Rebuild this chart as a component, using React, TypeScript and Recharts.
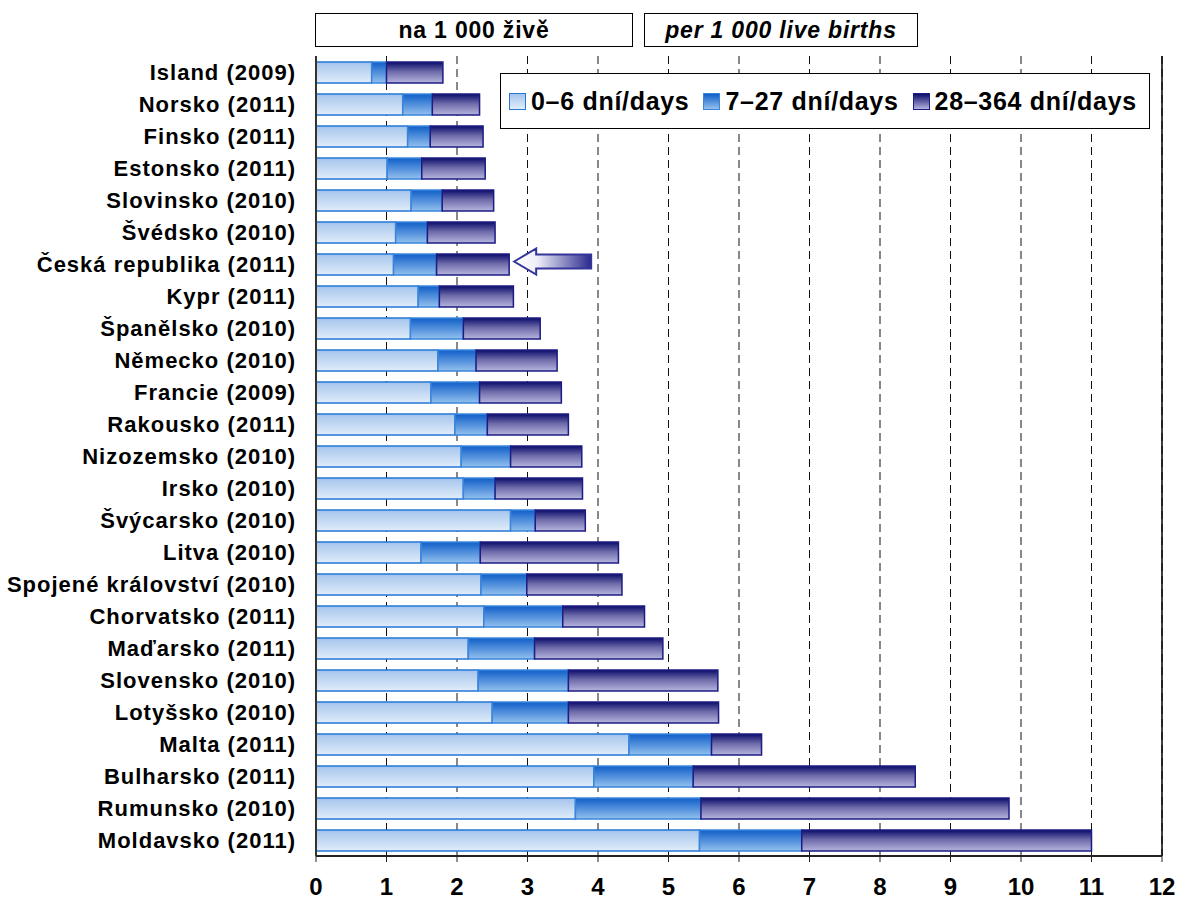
import React from "react";
import {
  Bar,
  BarChart,
  CartesianGrid,
  LabelList,
  Legend,
  ReferenceLine,
  XAxis,
  YAxis,
} from "recharts";

const COUNTRIES = [
  "Island (2009)",
  "Norsko (2011)",
  "Finsko (2011)",
  "Estonsko (2011)",
  "Slovinsko (2010)",
  "Švédsko (2010)",
  "Česká republika (2011)",
  "Kypr (2011)",
  "Španělsko (2010)",
  "Německo (2010)",
  "Francie (2009)",
  "Rakousko (2011)",
  "Nizozemsko (2010)",
  "Irsko (2010)",
  "Švýcarsko (2010)",
  "Litva (2010)",
  "Spojené království (2010)",
  "Chorvatsko (2011)",
  "Maďarsko (2011)",
  "Slovensko (2010)",
  "Lotyšsko (2010)",
  "Malta (2011)",
  "Bulharsko (2011)",
  "Rumunsko (2010)",
  "Moldavsko (2011)",
];

// 0–6 days
const EARLY = [
  0.79, 1.23, 1.3, 1.01, 1.35, 1.13, 1.1, 1.45, 1.34, 1.73, 1.63, 1.97, 2.06,
  2.09, 2.76, 1.49, 2.34, 2.38, 2.16, 2.3, 2.5, 4.44, 3.94, 3.68, 5.44,
];
// 7–27 days
const LATE = [
  0.21, 0.42, 0.32, 0.49, 0.44, 0.45, 0.61, 0.3, 0.75, 0.54, 0.69, 0.46, 0.7,
  0.45, 0.35, 0.84, 0.65, 1.12, 0.94, 1.28, 1.08, 1.17, 1.41, 1.78, 1.45,
];
// 28–364 days
const POST = [
  0.8, 0.67, 0.75, 0.9, 0.73, 0.96, 1.03, 1.05, 1.09, 1.15, 1.16, 1.15, 1.01,
  1.24, 0.71, 1.96, 1.35, 1.16, 1.82, 2.12, 2.13, 0.71, 3.15, 4.37, 4.11,
];

const SERIES_KEYS = ["early", "late", "post"];
const SERIES_NAMES = ["0–6 dní/days", "7–27 dní/days", "28–364 dní/days"];
const X_TICKS = [0, 1, 2, 3, 4, 5, 6, 7, 8, 9, 10, 11, 12];
const HIGHLIGHT = "Česká republika (2011)";

const data = COUNTRIES.map((name, i) => ({
  name,
  early: EARLY[i],
  late: LATE[i],
  post: POST[i],
}));

const FONT = '"Liberation Sans", Arial, sans-serif';

const SWATCH: Record<string, { bg: string; border: string }> = {
  early: {
    bg: "linear-gradient(#a4c4ec, #e2edfa)",
    border: "#2377d8",
  },
  late: {
    bg: "linear-gradient(#0f5fc8, #94c0ee)",
    border: "#3a86dd",
  },
  post: {
    bg: "linear-gradient(#0b0b6b, #b4b2dc)",
    border: "#1c1c84",
  },
};

function LegendContent(props: any) {
  const payload = [...(props.payload || [])].sort(
    (a: any, b: any) =>
      SERIES_KEYS.indexOf(a.dataKey) - SERIES_KEYS.indexOf(b.dataKey),
  );
  return (
    <div
      style={{
        display: "flex",
        alignItems: "center",
        height: "100%",
        paddingLeft: 8,
        fontFamily: FONT,
        fontWeight: "bold",
        fontSize: 25,
        letterSpacing: 0.7,
        color: "#000",
        whiteSpace: "nowrap",
      }}
    >
      {payload.map((p: any) => {
        const sw = SWATCH[p.dataKey];
        return (
          <div
            key={p.dataKey}
            style={{
              display: "flex",
              alignItems: "center",
              marginRight: 14,
              flexShrink: 0,
            }}
          >
            <span
              style={{
                display: "inline-block",
                flexShrink: 0,
                width: 15,
                height: 15,
                background: sw.bg,
                border: `1.5px solid ${sw.border}`,
                marginRight: 5,
              }}
            />
            <span>{p.value}</span>
          </div>
        );
      })}
    </div>
  );
}

function ArrowLabel(props: any) {
  if (props.value !== HIGHLIGHT) return null;
  const box =
    props.viewBox && props.viewBox.width != null ? props.viewBox : props;
  const tx = box.x + box.width + 5;
  const cy = box.y + box.height / 2 - 3;
  const head = 22;
  const len = 77;
  const d = `M ${tx} ${cy} L ${tx + head} ${cy - 13} L ${tx + head} ${cy - 7} L ${tx + len} ${cy - 7} L ${tx + len} ${cy + 7} L ${tx + head} ${cy + 7} L ${tx + head} ${cy + 13} Z`;
  return (
    <path
      d={d}
      fill="url(#arrowGrad)"
      stroke="#34349a"
      strokeWidth={2}
      strokeLinejoin="miter"
    />
  );
}

const boxStyle: React.CSSProperties = {
  position: "absolute",
  top: 13,
  height: 32,
  border: "1.5px solid #000",
  background: "#fff",
  display: "flex",
  alignItems: "center",
  justifyContent: "center",
  fontFamily: FONT,
  fontWeight: "bold",
  fontSize: 23,
  letterSpacing: 0.8,
  color: "#000",
};

export default function App() {
  return (
    <div
      style={{
        position: "absolute",
        left: 0,
        top: 0,
        width: 1181,
        height: 909,
        background: "#fff",
      }}
    >
      <div style={{ ...boxStyle, left: 315, width: 316 }}>na 1 000 živě</div>
      <div style={{ ...boxStyle, left: 644, width: 272, fontStyle: "italic" }}>
        per 1 000 live births
      </div>

      <BarChart
        width={1181}
        height={909}
        data={data}
        layout="vertical"
        barSize={21}
        margin={{ top: 56, right: 19, bottom: 0, left: 0 }}
      >
        <defs>
          <linearGradient id="gEarly" x1="0" y1="0" x2="0" y2="1">
            <stop offset="0%" stopColor="#a4c4ec" />
            <stop offset="100%" stopColor="#e2edfa" />
          </linearGradient>
          <linearGradient id="gLate" x1="0" y1="0" x2="0" y2="1">
            <stop offset="0%" stopColor="#0f5fc8" />
            <stop offset="100%" stopColor="#94c0ee" />
          </linearGradient>
          <linearGradient id="gPost" x1="0" y1="0" x2="0" y2="1">
            <stop offset="0%" stopColor="#0b0b6b" />
            <stop offset="45%" stopColor="#6c6aa8" />
            <stop offset="100%" stopColor="#b6b4de" />
          </linearGradient>
          <linearGradient id="arrowGrad" x1="0" y1="0" x2="1" y2="0">
            <stop offset="0%" stopColor="#ffffff" />
            <stop offset="30%" stopColor="#eeeef8" />
            <stop offset="100%" stopColor="#2a2a8e" />
          </linearGradient>
        </defs>

        <CartesianGrid
          horizontal={false}
          stroke="#111"
          strokeDasharray="8 5"
        />

        <XAxis
          type="number"
          domain={[0, 12]}
          ticks={X_TICKS}
          interval={0}
          height={53}
          tickSize={6}
          tickMargin={16}
          tickLine={{ stroke: "#222" }}
          axisLine={{ stroke: "#222", strokeWidth: 2 }}
          tick={{
            fill: "#000",
            fontFamily: FONT,
            fontWeight: "bold",
            fontSize: 24,
          }}
        />
        <XAxis
          xAxisId="top"
          orientation="top"
          type="number"
          domain={[0, 12]}
          height={0}
          tick={false}
          tickLine={false}
          axisLine={{ stroke: "#000", strokeWidth: 1 }}
        />
        <YAxis
          type="category"
          dataKey="name"
          width={316}
          interval={0}
          tickLine={false}
          tickSize={0}
          tickMargin={20}
          axisLine={{ stroke: "#333", strokeWidth: 2 }}
          tick={{
            fill: "#000",
            fontFamily: FONT,
            fontWeight: "bold",
            fontSize: 22,
            letterSpacing: 1,
          }}
        />

        <ReferenceLine x={12} stroke="#000" strokeWidth={1.5} />

        <Legend
          layout="horizontal"
          verticalAlign="middle"
          align="center"
          content={<LegendContent />}
          wrapperStyle={{
            left: 500,
            top: 73,
            width: 650,
            height: 56,
            border: "1.5px solid #000",
            background: "#fff",
            boxSizing: "border-box",
          }}
        />

        <Bar
          dataKey="early"
          name={SERIES_NAMES[0]}
          stackId="a"
          fill="url(#gEarly)"
          stroke="#2377d8"
          strokeWidth={1.5}
          isAnimationActive={false}
        />
        <Bar
          dataKey="late"
          name={SERIES_NAMES[1]}
          stackId="a"
          fill="url(#gLate)"
          stroke="#3a86dd"
          strokeWidth={1.5}
          isAnimationActive={false}
        />
        <Bar
          dataKey="post"
          name={SERIES_NAMES[2]}
          stackId="a"
          fill="url(#gPost)"
          stroke="#1c1c84"
          strokeWidth={1.5}
          isAnimationActive={false}
        >
          <LabelList dataKey="name" content={<ArrowLabel />} />
        </Bar>
      </BarChart>
    </div>
  );
}
